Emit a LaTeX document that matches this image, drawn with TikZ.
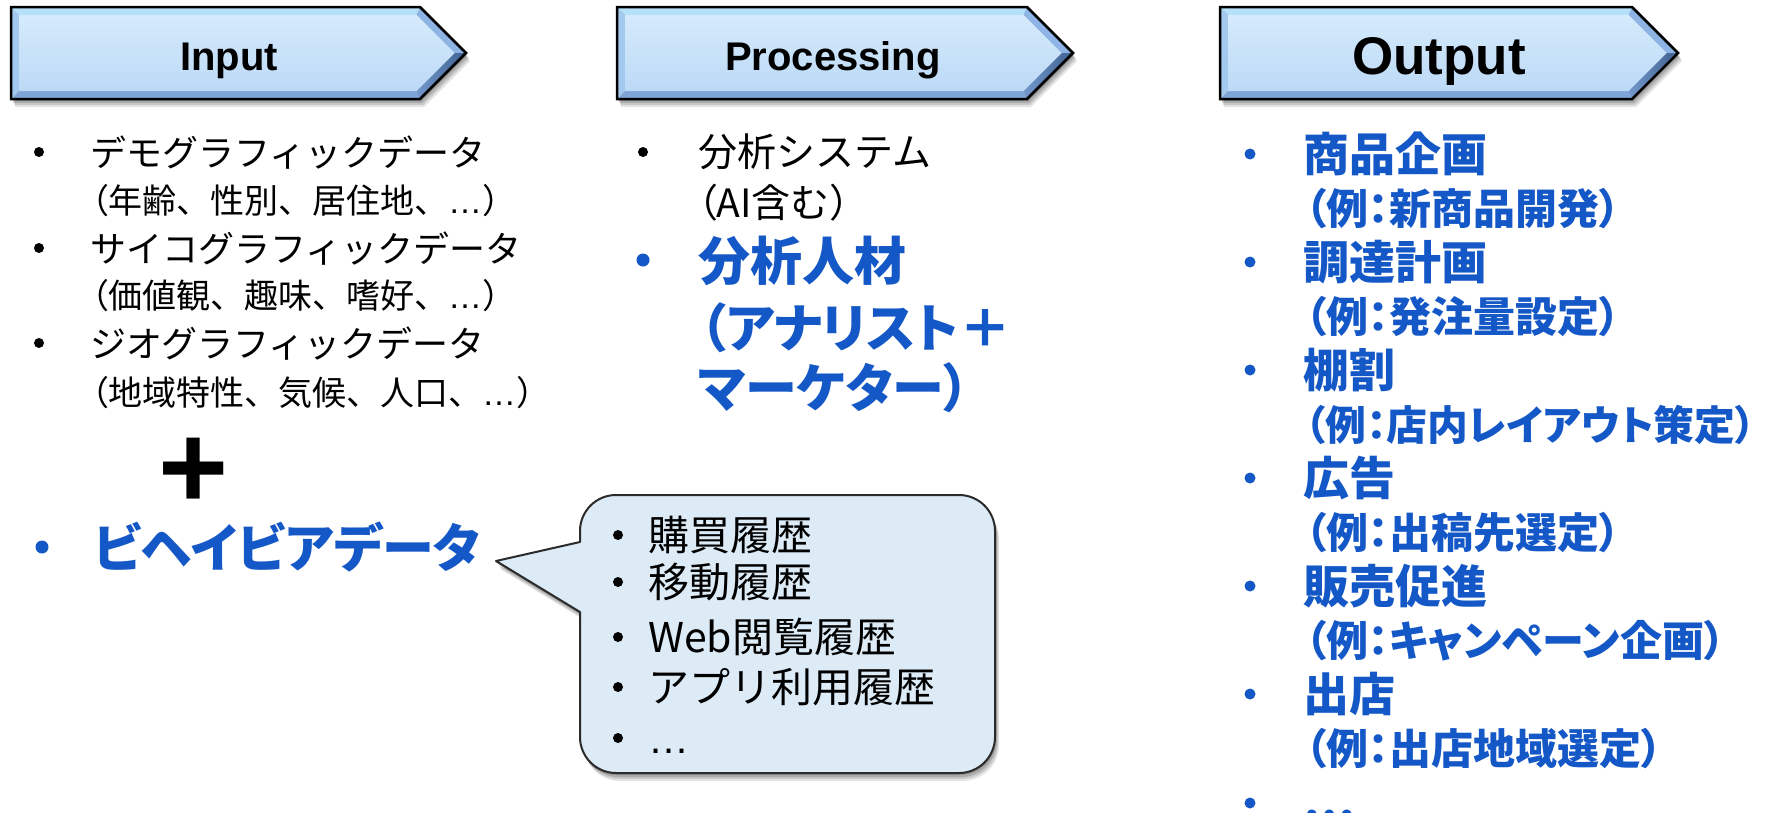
\documentclass[tikz,border=0pt]{standalone}
\usepackage{fontspec}
\setmainfont{Noto Sans CJK JP}
\newfontfamily\jp{Noto Sans CJK JP}
\newfontfamily\jpp{Noto Sans CJK JP}[RawFeature=+palt]
\newfontfamily\lat{Liberation Sans}
\definecolor{ublue}{HTML}{1457C6}
\definecolor{bevtopc}{HTML}{B5E0FA}
\definecolor{bevurc}{HTML}{8DB4E4}
\definecolor{bevlrl}{HTML}{7397CC}
\definecolor{bevlrr}{HTML}{3F6190}
\definecolor{bevbotc}{HTML}{7EA4D8}
\definecolor{bevleftc}{HTML}{A3C9EF}
\definecolor{facetop}{HTML}{D5EBFC}
\definecolor{facebot}{HTML}{BCD9F6}
\definecolor{callfill}{HTML}{DDEBF7}
\definecolor{callline}{HTML}{2B2B2B}
\tikzset{
  softshadow/.style={
    preaction={fill=black,opacity=.14,transform canvas={xshift=1pt,yshift=-2pt}},
    preaction={fill=black,opacity=.14,transform canvas={xshift=2pt,yshift=-4pt}},
    preaction={fill=black,opacity=.12,transform canvas={xshift=3pt,yshift=-6pt}},
    preaction={fill=black,opacity=.10,transform canvas={xshift=4pt,yshift=-8pt}}},
  hdrline/.style={draw=black,line width=2.5pt,line join=miter},
  bevtop/.style={fill=bevtopc},
  bevur/.style={fill=bevurc},
  bevlr/.style={left color=bevlrl,right color=bevlrr},
  bevbot/.style={fill=bevbotc},
  bevleft/.style={fill=bevleftc},
  face/.style={top color=facetop,bottom color=facebot},
  callout/.style={softshadow,fill=callfill,draw=callline,line width=2pt,line join=round},
  txt/.style={inner sep=0pt,anchor=base west},
  lmain/.style={txt,font=\jp\fontsize{36}{36}\selectfont},
  lsub/.style={txt,font=\jp\fontsize{34}{34}\selectfont},
  pmain/.style={txt,font=\jp\fontsize{39}{39}\selectfont},
  bmain/.style={txt,font=\jpp\bfseries\fontsize{52}{52}\selectfont,text=ublue},
  omain/.style={txt,font=\jpp\bfseries\fontsize{46}{46}\selectfont,text=ublue},
  osub/.style={txt,font=\jpp\bfseries\fontsize{42}{42}\selectfont,text=ublue},
  cmain/.style={txt,font=\jp\fontsize{41}{41}\selectfont},
  hdrtxt/.style={inner sep=0pt,anchor=base,font=\lat\bfseries\fontsize{40}{40}\selectfont},
  plussign/.style={inner sep=0pt,anchor=base,font=\lat\bfseries\fontsize{120}{120}\selectfont},
  bul/.style={circle,fill=black,inner sep=0pt,minimum size=10pt},
  cbul/.style={circle,fill=black,inner sep=0pt,minimum size=10pt},
  bbul/.style={circle,fill=ublue,inner sep=0pt,minimum size=13pt},
  obul/.style={circle,fill=ublue,inner sep=0pt,minimum size=11pt}
}
\newcommand\hdrshape[3]{%
  \path[softshadow] (#1,7) -- (#2,7) -- (#3,53) -- (#2,99) -- (#1,99) -- cycle;
  \fill[bevtop] (#1,7) -- (#2,7) -- ({#2-3.3},15) -- ({#1+8},15) -- cycle;
  \fill[bevur] (#2,7) -- (#3,53) -- ({#3-11.3},53) -- ({#2-3.3},15) -- cycle;
  \path[bevlr] (#3,53) -- (#2,99) -- ({#2-3.3},91) -- ({#3-11.3},53) -- cycle;
  \fill[bevbot] (#2,99) -- (#1,99) -- ({#1+8},91) -- ({#2-3.3},91) -- cycle;
  \fill[bevleft] (#1,99) -- (#1,7) -- ({#1+8},15) -- ({#1+8},91) -- cycle;
  \path[face] ({#1+8},15) -- ({#2-3.3},15) -- ({#3-11.3},53) -- ({#2-3.3},91) -- ({#1+8},91) -- cycle;
  \draw[hdrline] (#1,7) -- (#2,7) -- (#3,53) -- (#2,99) -- (#1,99) -- cycle;
}
\begin{document}
\begin{tikzpicture}[x=1pt,y=-1pt]
\useasboundingbox (0,0) rectangle (1767,812);
\fill[white] (0,0) rectangle (1767,812);

% headers
\hdrshape{11}{420}{466}
\hdrshape{617}{1027}{1073}
\hdrshape{1220}{1632}{1678}
\node[hdrtxt] (hin) at (229,70) {Input};
\node[hdrtxt] (hpr) at (833,70) {Processing};
\node[hdrtxt,font=\lat\bfseries\fontsize{53}{53}\selectfont] (hout) at (1439,74) {Output};

% input column
\node[bul] (ib1) at (39,152) {};
\node[lmain] (it1) at (90,166) {デモグラフィックデータ};
\node[lsub] (is1) at (91,213) {{\jpp （}年齢、性別、居住地、{\lat …}）};
\node[bul] (ib2) at (39,248) {};
\node[lmain] (it2) at (90,262) {サイコグラフィックデータ};
\node[lsub] (is2) at (91,308) {{\jpp （}価値観、趣味、嗜好、{\lat …}）};
\node[bul] (ib3) at (39,343) {};
\node[lmain] (it3) at (90,357) {ジオグラフィックデータ};
\node[lsub] (is3) at (91,405) {{\jpp （}地域特性、気候、人口、{\lat …}）};
\node[plussign] (plus) at (194,508) {+};
\node[bbul] (ib4) at (42,547) {};
\node[bmain] (it4) at (93,567) {ビヘイビアデータ};

% callout
\draw[callout] (580,542) -- (580,531) arc[start angle=180,end angle=270,radius=36]
  -- (959,495) arc[start angle=270,end angle=360,radius=36]
  -- (995,737) arc[start angle=0,end angle=90,radius=36]
  -- (616,773) arc[start angle=90,end angle=180,radius=36]
  -- (580,612) -- (496,561) -- cycle;
\node[cbul] (cb1) at (618,535) {};
\node[cmain] (ct1) at (648,550) {購買履歴};
\node[cbul] (cb2) at (618,582) {};
\node[cmain] (ct2) at (648,597) {移動履歴};
\node[cbul] (cb3) at (618,637) {};
\node[cmain] (ct3) at (648,652) {Web閲覧履歴};
\node[cbul] (cb4) at (618,687) {};
\node[cmain] (ct4) at (648,702) {アプリ利用履歴};
\node[cbul] (cb5) at (618,738) {};
\node[cmain,font=\lat\fontsize{41}{41}\selectfont] (ct5) at (648,753) {…};

% processing column
\node[bul] (pb1) at (643,152) {};
\node[pmain] (pt1) at (698,166) {分析システム};
\node[pmain] (ps1) at (697,217) {{\jpp （}AI含む）};
\node[bbul] (pb2) at (643,260) {};
\node[bmain] (pt2) at (698,280) {分析人材};
\node[bmain] (ps2) at (700,347) {（アナリスト＋};
\node[bmain] (ps3) at (698,407) {マーケター）};

% output column
\node[obul] (ob1) at (1250,154) {};
\node[omain] (ot1) at (1303,171.5) {商品企画};
\node[osub] (os1) at (1305,224) {（例：新商品開発）};
\node[obul] (ob2) at (1250,262) {};
\node[omain] (ot2) at (1303,279.5) {調達計画};
\node[osub] (os2) at (1305,332) {（例：発注量設定）};
\node[obul] (ob3) at (1250,370) {};
\node[omain] (ot3) at (1303,387.5) {棚割};
\node[osub,font=\jpp\bfseries\fontsize{40.8}{40.8}\selectfont] (os3) at (1305,440) {（例：店内レイアウト策定）};
\node[obul] (ob4) at (1250,478) {};
\node[omain] (ot4) at (1303,495.5) {広告};
\node[osub] (os4) at (1305,548) {（例：出稿先選定）};
\node[obul] (ob5) at (1250,586) {};
\node[omain] (ot5) at (1303,603.5) {販売促進};
\node[osub] (os5) at (1305,656) {（例：キャンペーン企画）};
\node[obul] (ob6) at (1250,694) {};
\node[omain] (ot6) at (1303,711.5) {出店};
\node[osub] (os6) at (1305,764) {（例：出店地域選定）};
\node[obul] (ob7) at (1250,803) {};
\node[omain] (ot7) at (1303,819.5) {…};
\end{tikzpicture}
\end{document}
